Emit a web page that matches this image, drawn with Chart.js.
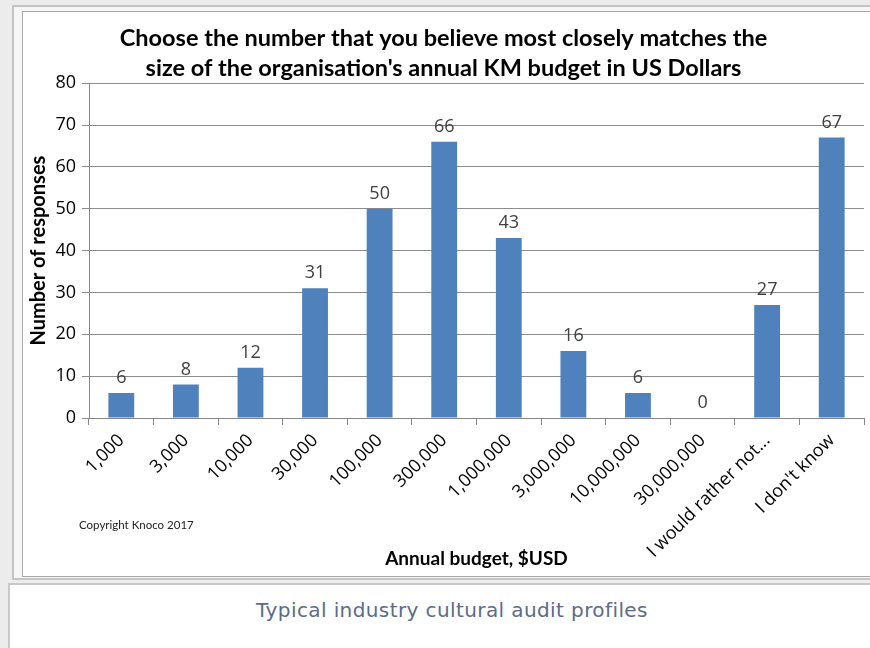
<!DOCTYPE html>
<html>
<head>
<meta charset="utf-8">
<script src="https://cdn.jsdelivr.net/npm/chart.js@4"></script>
<style>
  body { margin: 0; background: #ececec; width: 870px; height: 648px; overflow: hidden; position: relative; font-family: "Liberation Sans", Arial, sans-serif; }
  #outer { position: absolute; left: 12px; top: 5px; width: 880px; height: 571px; background: #f6f6f6; border: 2px solid #c4c4c4; }
  #inner { position: absolute; left: 22px; top: 11px; width: 860px; height: 564px; background: #fff; border: 1px solid #a6a6a6; }
  #inner canvas { position: absolute; left: 0; top: 0; }
  #caption { position: absolute; left: 8px; top: 583px; width: 880px; height: 70px; background: #fff; border: 2px solid #c8c8c8; }
  #caption div { position: absolute; left: 0; width: 884px; top: 13px; text-align: center; font-family: "DejaVu Sans", sans-serif; font-size: 20px; letter-spacing: 0.4px; color: #5b6b8a; }
</style>
</head>
<body>
<div id="outer"></div>
<div id="inner"><canvas id="budget" width="847" height="564"></canvas></div>
<div id="caption"><div>Typical industry cultural audit profiles</div></div>
<script>
// categories and counts
const budgets = ['1,000', '3,000', '10,000', '30,000', '100,000', '300,000', '1,000,000',
  '3,000,000', '10,000,000', '30,000,000', 'I would rather not...', "I don't know"]
const responses = [6, 8, 12, 31, 50, 66, 43, 16, 6, 0, 27, 67]
const yTicks = [0, 10, 20, 30, 40, 50, 60, 70, 80]

// writes the count over every bar
const valueLabels = {
  id: 'valueLabels',
  afterDatasetsDraw(chart) {
    const ctx = chart.ctx
    const meta = chart.getDatasetMeta(0)
    ctx.save()
    ctx.font = '18px "Open Sans", sans-serif'
    ctx.fillStyle = '#404040'
    ctx.textAlign = 'center'
    ctx.textBaseline = 'alphabetic'
    meta.data.forEach((bar, i) => {
      ctx.fillText(responses[i], bar.x, bar.y - 10)
    })
    // copyright note in the bottom left corner
    ctx.font = '11.5px Lato, sans-serif'
    ctx.fillStyle = '#222'
    ctx.textAlign = 'left'
    ctx.textBaseline = 'middle'
    ctx.fillText('Copyright Knoco 2017', 56, 513)
    ctx.restore()
  }
}

const budgetChart = new Chart(document.getElementById('budget'), {
  type: 'bar',
  data: {
    labels: budgets,
    datasets: [{
      data: responses,
      backgroundColor: '#4f81bd',
      barPercentage: 0.8,
      categoryPercentage: 0.5
    }]
  },
  options: {
    responsive: false,
    animation: false,
    layout: { padding: { top: 8, right: 6, bottom: 6, left: 0 } },
    plugins: {
      legend: { display: false },
      tooltip: { enabled: false },
      title: {
        display: true,
        text: ['Choose the number that you believe most closely matches the',
          "size of the organisation's annual KM budget in US Dollars"],
        font: { family: 'Lato', size: 23.5, weight: 'bold', lineHeight: 1.28 },
        color: '#000',
        padding: { top: 3, bottom: 0 }
      }
    },
    scales: {
      x: {
        grid: { drawOnChartArea: false, color: '#868686', tickLength: 7 },
        border: { color: '#868686' },
        ticks: {
          maxRotation: 45, minRotation: 45, autoSkip: false,
          color: '#000', font: { family: 'Open Sans', size: 18 }, padding: 5
        },
        title: {
          display: true, text: 'Annual budget, $USD', color: '#000',
          font: { family: 'Lato', size: 19, weight: 'bold' }, padding: { top: 4, bottom: 0 }
        },
        afterFit(scale) { scale.height = 152 }
      },
      y: {
        min: 0, max: 80,
        afterBuildTicks(scale) { scale.ticks = yTicks.map(v => ({ value: v })) },
        grid: { color: '#8c8c8c', tickLength: 7 },
        border: { color: '#868686' },
        ticks: { color: '#000', font: { family: 'Open Sans', size: 18 }, padding: 6 },
        title: {
          display: true, text: 'Number of responses', color: '#000',
          font: { family: 'Lato', size: 20, weight: 'bold' }, padding: { top: 4, bottom: 0 }
        },
        afterFit(scale) { scale.width = 66 }
      }
    }
  },
  plugins: [valueLabels]
})
</script>
</body>
</html>
